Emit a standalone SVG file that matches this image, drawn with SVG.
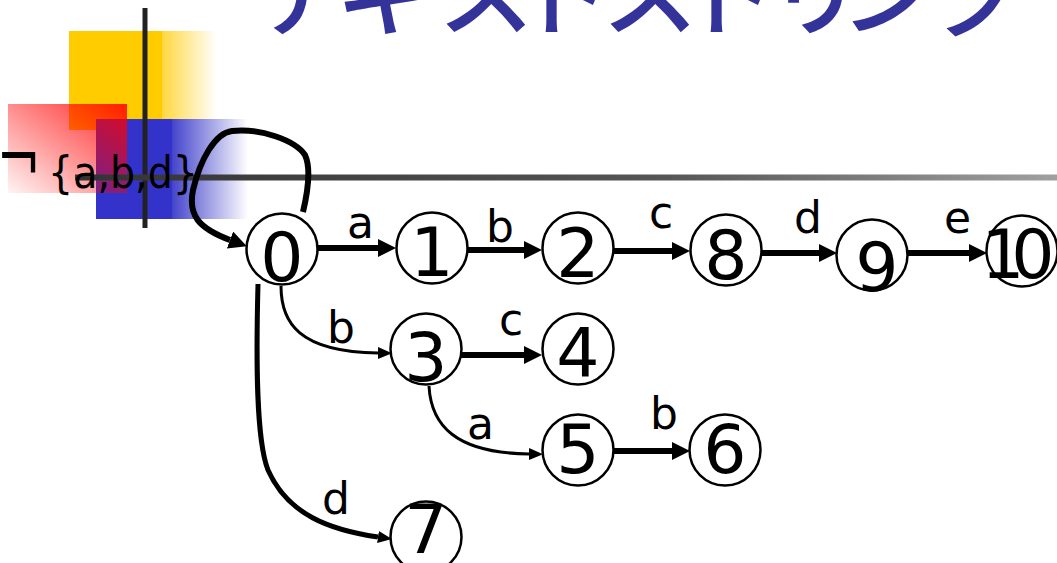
<svg xmlns="http://www.w3.org/2000/svg" width="1057" height="563" viewBox="0 0 1057 563">
<style>
.node circle{fill:#fff;stroke:#000;stroke-width:2.5}
.node text{font-family:"DejaVu Sans","Liberation Sans",sans-serif;font-size:68px;fill:#000;text-anchor:middle}
.lbl{font-family:"DejaVu Sans","Liberation Sans",sans-serif;font-size:44px;fill:#000}
.thick{fill:none;stroke:#000;stroke-width:6;marker-end:url(#ah)}
.thin{fill:none;stroke:#000;stroke-width:3;marker-end:url(#ahs)}
.title{font-family:"Noto Sans CJK JP","Noto Sans CJK SC",sans-serif;font-size:96px;font-weight:500;fill:#333399}
</style>
<defs>
<linearGradient id="gy" x1="0" y1="0" x2="1" y2="0">
<stop offset="0" stop-color="#FFCC00"/>
<stop offset="0.63" stop-color="#FFCC00"/>
<stop offset="0.63" stop-color="#FFD840"/>
<stop offset="1" stop-color="#FFFFFF"/>
</linearGradient>
<linearGradient id="gb" x1="0" y1="0" x2="1" y2="0">
<stop offset="0" stop-color="#3333CC"/>
<stop offset="0.5" stop-color="#3333CC"/>
<stop offset="0.5" stop-color="#4444CC"/>
<stop offset="1" stop-color="#FFFFFF"/>
</linearGradient>
<linearGradient id="gr" x1="0" y1="1" x2="1" y2="0">
<stop offset="0" stop-color="#FF0000" stop-opacity="0.05"/>
<stop offset="1" stop-color="#FF0000" stop-opacity="1"/>
</linearGradient>
<linearGradient id="gl" x1="0" y1="0" x2="1" y2="0">
<stop offset="0" stop-color="#333333"/>
<stop offset="0.6" stop-color="#555555"/>
<stop offset="1" stop-color="#A0A0A0"/>
</linearGradient>
<marker id="ah" markerUnits="userSpaceOnUse" markerWidth="20" markerHeight="20" refX="0" refY="9" orient="auto">
<path d="M0,0 L18,9 L0,18 z" fill="#000"/>
</marker>
<marker id="ahs" markerUnits="userSpaceOnUse" markerWidth="16" markerHeight="14" refX="0" refY="6" orient="auto">
<path d="M0,0 L14,6 L0,12 z" fill="#000"/>
</marker>
</defs>
<g id="decoration">
<rect x="69" y="31" width="148" height="99" fill="url(#gy)"/>
<rect x="96" y="119" width="152" height="100" fill="url(#gb)"/>
<rect x="8" y="104" width="119" height="89" fill="url(#gr)" opacity="0.85"/>
<rect x="142.5" y="8" width="5" height="220" fill="#222"/>
<rect x="75" y="174.5" width="982" height="6" fill="url(#gl)"/>
</g>
<text id="title" class="title" y="28"><tspan x="252">テ</tspan><tspan x="335">キ</tspan><tspan x="438">ス</tspan><tspan x="515">ト</tspan><tspan x="602">ス</tspan><tspan x="680">ト</tspan><tspan x="768">リ</tspan><tspan x="840">ン</tspan><tspan x="932">グ</tspan></text>
<g id="cond">
<text class="lbl" style="font-size:46px" x="-3" y="0" transform="translate(0,183) scale(1.15,1.6)">¬</text>
<text class="lbl" x="48" y="188" textLength="150" lengthAdjust="spacingAndGlyphs">{a,b,d}</text>
</g>
<g id="connectors">
<path class="thick" d="M303,212 C307,195 312,170 305,155 C295,140 260,128 232,131 C215,133 200,160 193,190 C188,215 198,228 230,240"/>
<path class="thick" d="M318,248 H378"/>
<path class="thick" d="M467,250 H524"/>
<path class="thick" d="M613,251 H672"/>
<path class="thick" d="M762,253 H819"/>
<path class="thick" d="M908,253 H969"/>
<path class="thick" d="M461,355 H524"/>
<path class="thick" d="M613,451 H672"/>
<path class="thin" d="M281,286 C281,322 298,352 378,353"/>
<path class="thin" d="M429,386 C431,425 455,453 529,454"/>
<path fill="none" stroke="#000" stroke-width="5" d="M258,284 C256,360 256,440 268,470 C288,515 330,530 378,537" marker-end="url(#ahs)"/>
<text class="lbl" x="347" y="238">a</text>
<text class="lbl" x="486" y="242">b</text>
<text class="lbl" x="649" y="228">c</text>
<text class="lbl" x="794" y="233">d</text>
<text class="lbl" x="944" y="233">e</text>
<text class="lbl" x="327" y="343">b</text>
<text class="lbl" x="499" y="335">c</text>
<text class="lbl" x="467" y="439">a</text>
<text class="lbl" x="650" y="429">b</text>
<text class="lbl" x="322" y="514">d</text>
</g>
<g id="n0" class="node"><circle cx="282" cy="249" r="35.5"/><text x="282" y="281">0</text></g>
<g id="n1" class="node"><circle cx="432" cy="248" r="35.5"/><text x="432" y="276">1</text></g>
<g id="n2" class="node"><circle cx="578" cy="248" r="35.5"/><text x="578" y="277">2</text></g>
<g id="n8" class="node"><circle cx="726" cy="250" r="35.5"/><text x="726" y="279">8</text></g>
<g id="n9" class="node"><circle cx="872" cy="255" r="35.5"/><text x="877" y="291">9</text></g>
<g id="n10" class="node"><circle cx="1022" cy="251" r="35.5"/><text y="278"><tspan x="1003">1</tspan><tspan x="1033">0</tspan></text></g>
<g id="n3" class="node"><circle cx="426" cy="349" r="35.5"/><text x="426" y="381">3</text></g>
<g id="n4" class="node"><circle cx="578" cy="349" r="35.5"/><text x="578" y="377">4</text></g>
<g id="n5" class="node"><circle cx="578" cy="450" r="35.5"/><text x="578" y="473">5</text></g>
<g id="n6" class="node"><circle cx="725" cy="450" r="35.5"/><text x="725" y="473">6</text></g>
<g id="n7" class="node"><circle cx="426" cy="537" r="35.5"/><text x="426" y="553">7</text></g>
</svg>
